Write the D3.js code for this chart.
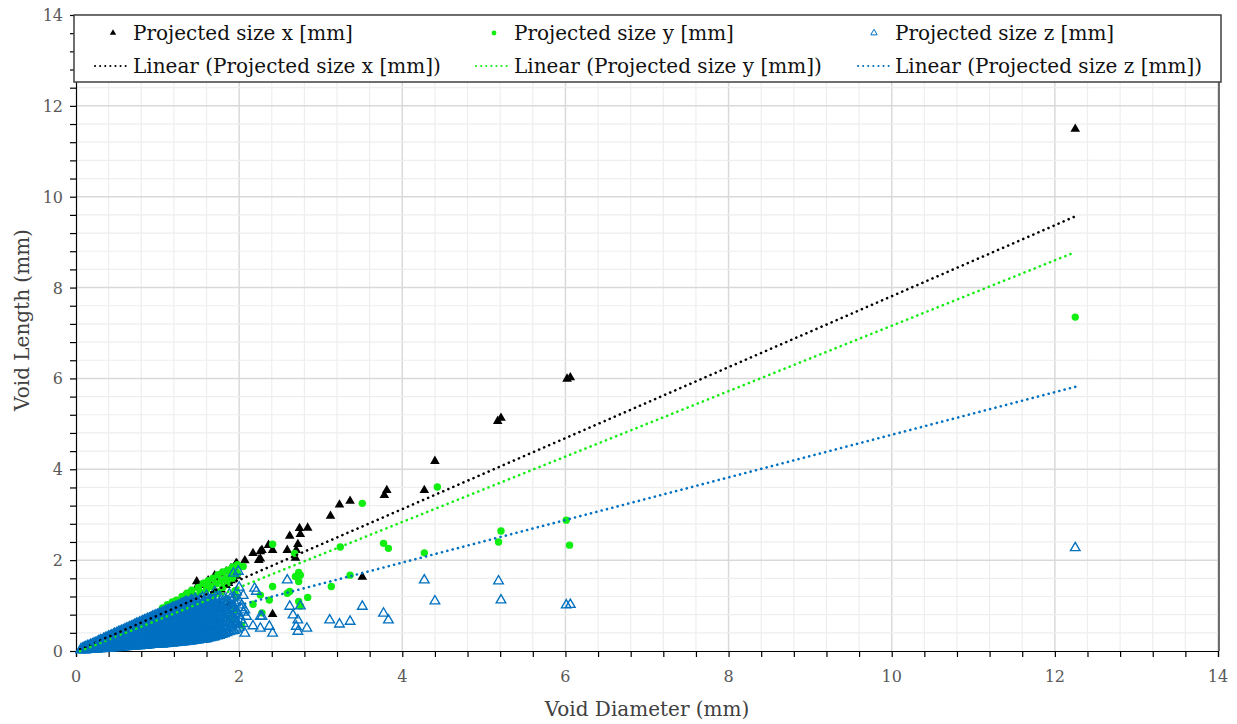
<!DOCTYPE html>
<html>
<head>
<meta charset="utf-8">
<script src="https://d3js.org/d3.v7.min.js"></script>
<style>
body { margin: 0; background: #fff; }
svg { font-family: "DejaVu Serif", serif; }
</style>
</head>
<body>
<div id="chart"></div>
<script>
// axis ticks
var diamTicks = [0, 2, 4, 6, 8, 10, 12, 14];
var lengthTicks = [0, 2, 4, 6, 8, 10, 12, 14];

// dense part of the cloud, read row by row: [diameter, [lengths]]
var xCloud = [
	[0.1, [0.07]], [0.2, [0.12, 0.16]], [0.3, [0.18, 0.24]], [0.4, [0.22, 0.31]],
	[0.5, [0.3, 0.4]], [0.6, [0.33, 0.47]], [0.7, [0.4, 0.55]], [0.8, [0.45, 0.62]],
	[0.9, [0.5, 0.7]], [1.0, [0.55, 0.8]], [1.08, [0.62, 0.9]], [1.16, [0.7, 0.98]],
	[1.24, [0.75, 1.08]], [1.32, [0.8, 1.18]], [1.4, [0.85, 1.3]], [1.48, [0.95, 1.4, 1.53]],
	[1.56, [1.0, 1.45]], [1.62, [1.1, 1.55]], [1.7, [1.3, 1.6, 1.66]], [1.78, [1.35, 1.7]],
	[1.84, [1.45, 1.75]], [1.9, [1.55, 1.82]]
];
var yCloud = [
	[0.1, [0.06]], [0.2, [0.11, 0.15]], [0.3, [0.17, 0.23]], [0.4, [0.2, 0.3]],
	[0.5, [0.28, 0.38]], [0.6, [0.32, 0.46]], [0.7, [0.38, 0.54]], [0.8, [0.42, 0.62]],
	[0.9, [0.48, 0.7]], [1.0, [0.52, 0.78]], [1.06, [0.6, 0.95]], [1.12, [0.7, 1.02]],
	[1.18, [0.75, 1.08]], [1.23, [0.8, 1.12]], [1.26, [1.05]], [1.3, [0.85, 1.2]],
	[1.34, [1.15]], [1.36, [0.9, 1.27]], [1.42, [0.95, 1.34]], [1.45, [1.22]],
	[1.5, [1.0, 1.4]], [1.52, [1.3]], [1.56, [1.05, 1.49]], [1.6, [1.35, 1.45]],
	[1.62, [1.1, 1.55]], [1.66, [1.42]], [1.68, [1.2, 1.6]], [1.72, [1.48]],
	[1.74, [1.3, 1.68]], [1.78, [1.55]], [1.8, [1.4, 1.74]], [1.84, [1.6]],
	[1.86, [1.5, 1.78]], [1.9, [1.68]], [1.92, [1.6, 1.85]], [1.96, [1.75]],
	[1.98, [1.7, 1.9]]
];
var zCloudA = [
	[0.06, [0.02, 0.04]], [0.1, [0.02, 0.05, 0.08]], [0.14, [0.03, 0.07, 0.11]],
	[0.18, [0.03, 0.08, 0.14]], [0.22, [0.04, 0.1, 0.17]], [0.26, [0.04, 0.12, 0.2]],
	[0.3, [0.05, 0.13, 0.19, 0.24]], [0.34, [0.05, 0.12, 0.2, 0.27]],
	[0.38, [0.06, 0.14, 0.23, 0.3]], [0.42, [0.06, 0.15, 0.25, 0.33]],
	[0.46, [0.07, 0.16, 0.26, 0.36]], [0.5, [0.07, 0.15, 0.24, 0.32, 0.4]],
	[0.54, [0.08, 0.17, 0.27, 0.36, 0.43]], [0.58, [0.08, 0.18, 0.28, 0.38, 0.46]],
	[0.62, [0.09, 0.19, 0.3, 0.4, 0.5]], [0.66, [0.1, 0.2, 0.3, 0.41, 0.53]],
	[0.7, [0.1, 0.19, 0.29, 0.39, 0.48, 0.56]], [0.74, [0.11, 0.21, 0.31, 0.41, 0.51, 0.6]],
	[0.78, [0.11, 0.2, 0.3, 0.4, 0.5, 0.58, 0.63]], [0.82, [0.12, 0.22, 0.33, 0.43, 0.53, 0.62, 0.66]],
	[0.86, [0.12, 0.21, 0.31, 0.41, 0.5, 0.6, 0.69]], [0.9, [0.13, 0.23, 0.33, 0.43, 0.53, 0.63, 0.72]],
	[0.94, [0.14, 0.22, 0.32, 0.42, 0.52, 0.62, 0.7, 0.76]],
	[0.98, [0.14, 0.24, 0.34, 0.44, 0.54, 0.64, 0.72, 0.79]],
	[1.02, [0.15, 0.24, 0.33, 0.43, 0.53, 0.63, 0.73, 0.82]],
	[1.06, [0.15, 0.25, 0.35, 0.45, 0.55, 0.65, 0.75, 0.85]],
	[1.1, [0.16, 0.25, 0.34, 0.44, 0.54, 0.64, 0.74, 0.83, 0.88]],
	[1.14, [0.17, 0.26, 0.36, 0.46, 0.56, 0.66, 0.76, 0.85, 0.91]],
	[1.18, [0.17, 0.27, 0.37, 0.47, 0.57, 0.67, 0.77, 0.87, 0.95]],
	[1.22, [0.18, 0.27, 0.36, 0.46, 0.56, 0.66, 0.76, 0.86, 0.97]],
	[1.26, [0.19, 0.28, 0.38, 0.48, 0.58, 0.68, 0.78, 0.88, 1.0]],
	[1.3, [0.19, 0.29, 0.39, 0.49, 0.59, 0.69, 0.79, 0.89, 0.98, 1.04]],
	[1.34, [0.2, 0.3, 0.4, 0.5, 0.6, 0.7, 0.8, 0.9, 1.0, 1.08]],
	[1.38, [0.21, 0.3, 0.41, 0.52, 0.63, 0.74, 0.85, 0.95, 1.06]],
	[1.42, [0.22, 0.32, 0.42, 0.53, 0.64, 0.75, 0.86, 0.98, 1.12]],
	[1.46, [0.23, 0.33, 0.44, 0.55, 0.66, 0.77, 0.9, 1.02, 1.15]],
	[1.5, [0.24, 0.35, 0.46, 0.58, 0.7, 0.82, 0.94, 1.08]],
	[1.55, [0.25, 0.36, 0.48, 0.6, 0.72, 0.85, 1.0, 1.18]],
	[1.6, [0.27, 0.38, 0.5, 0.63, 0.76, 0.9, 1.05, 1.22]],
	[1.65, [0.29, 0.42, 0.55, 0.68, 0.82, 0.97, 1.12]],
	[1.7, [0.31, 0.45, 0.6, 0.75, 0.9, 1.08, 1.3]],
	[1.76, [0.34, 0.5, 0.68, 0.85, 1.02, 1.2]],
	[1.82, [0.38, 0.55, 0.74, 0.92, 1.15]],
	[1.88, [0.42, 0.62, 0.82, 1.05, 1.25]],
	[1.94, [0.45, 0.7, 0.95, 1.18]],
	[2.0, [0.52, 0.78, 1.1, 1.4]],
	[2.05, [0.6, 0.85, 1.22]]
];
// the voids that sit between the rows above
var zCloudB = [
	[0.08, [0.03, 0.06]], [0.12, [0.02, 0.06, 0.09]], [0.16, [0.04, 0.09, 0.12]],
	[0.2, [0.04, 0.09, 0.15]], [0.24, [0.05, 0.11, 0.18]], [0.28, [0.05, 0.09, 0.16, 0.22]],
	[0.32, [0.06, 0.1, 0.17, 0.24]], [0.36, [0.06, 0.1, 0.18, 0.26, 0.29]],
	[0.4, [0.07, 0.11, 0.19, 0.28, 0.32]], [0.44, [0.07, 0.11, 0.2, 0.29, 0.35]],
	[0.48, [0.08, 0.12, 0.21, 0.3, 0.37]], [0.52, [0.08, 0.12, 0.2, 0.29, 0.38, 0.42]],
	[0.56, [0.09, 0.13, 0.22, 0.31, 0.4, 0.45]], [0.6, [0.09, 0.14, 0.24, 0.34, 0.44, 0.48]],
	[0.64, [0.1, 0.15, 0.25, 0.35, 0.46, 0.51]], [0.68, [0.11, 0.15, 0.25, 0.35, 0.45, 0.52, 0.54]],
	[0.72, [0.11, 0.16, 0.25, 0.35, 0.45, 0.55, 0.58]], [0.76, [0.12, 0.16, 0.26, 0.36, 0.46, 0.55, 0.61]],
	[0.8, [0.12, 0.17, 0.27, 0.37, 0.48, 0.57, 0.64]],
	[0.84, [0.13, 0.17, 0.27, 0.37, 0.47, 0.57, 0.65, 0.68]],
	[0.88, [0.13, 0.18, 0.28, 0.38, 0.48, 0.58, 0.67, 0.71]],
	[0.92, [0.14, 0.18, 0.28, 0.38, 0.48, 0.58, 0.67, 0.74]],
	[0.96, [0.15, 0.19, 0.29, 0.39, 0.49, 0.59, 0.68, 0.77]],
	[1.0, [0.15, 0.2, 0.3, 0.4, 0.5, 0.6, 0.69, 0.77, 0.8]],
	[1.04, [0.16, 0.2, 0.3, 0.4, 0.5, 0.6, 0.7, 0.79, 0.83]],
	[1.08, [0.16, 0.21, 0.31, 0.41, 0.51, 0.61, 0.71, 0.8, 0.86]],
	[1.12, [0.17, 0.21, 0.31, 0.41, 0.51, 0.61, 0.71, 0.81, 0.9]],
	[1.16, [0.18, 0.22, 0.32, 0.42, 0.52, 0.62, 0.72, 0.82, 0.92]],
	[1.2, [0.18, 0.23, 0.33, 0.43, 0.53, 0.63, 0.73, 0.83, 0.92, 0.96]],
	[1.24, [0.19, 0.23, 0.33, 0.43, 0.53, 0.63, 0.73, 0.83, 0.93, 0.99]],
	[1.28, [0.2, 0.24, 0.34, 0.44, 0.54, 0.64, 0.74, 0.84, 0.94, 1.02]],
	[1.32, [0.2, 0.25, 0.35, 0.45, 0.55, 0.65, 0.75, 0.85, 0.95, 1.05]],
	[1.36, [0.21, 0.26, 0.36, 0.46, 0.57, 0.68, 0.79, 0.9, 1.0, 1.08]],
	[1.4, [0.22, 0.27, 0.37, 0.48, 0.59, 0.7, 0.81, 0.92, 1.03, 1.1]],
	[1.44, [0.23, 0.28, 0.38, 0.49, 0.6, 0.71, 0.82, 0.94, 1.06]],
	[1.48, [0.24, 0.29, 0.4, 0.51, 0.62, 0.74, 0.86, 0.98, 1.1]],
	[1.52, [0.25, 0.3, 0.41, 0.52, 0.64, 0.76, 0.88, 1.0, 1.13]],
	[1.58, [0.26, 0.31, 0.43, 0.55, 0.67, 0.8, 0.93, 1.08]],
	[1.62, [0.28, 0.33, 0.45, 0.57, 0.7, 0.83, 0.97, 1.1]],
	[1.68, [0.3, 0.37, 0.5, 0.63, 0.77, 0.92, 1.05]],
	[1.73, [0.33, 0.4, 0.54, 0.7, 0.85, 1.0, 1.15]],
	[1.79, [0.36, 0.46, 0.62, 0.8, 0.97]],
	[1.85, [0.4, 0.5, 0.68, 0.88, 1.1]],
	[1.91, [0.44, 0.58, 0.78, 1.0]],
	[1.97, [0.48, 0.65, 0.88, 1.3]]
];
// and the ones lying half a row higher
var zCloudC = [
	[0.07, [0.03]], [0.11, [0.04, 0.07]], [0.15, [0.05, 0.09]], [0.19, [0.06, 0.11]],
	[0.23, [0.07, 0.13, 0.16]], [0.27, [0.08, 0.15, 0.19]], [0.31, [0.09, 0.16, 0.22]],
	[0.35, [0.09, 0.16, 0.23]], [0.39, [0.1, 0.19, 0.27]], [0.43, [0.11, 0.2, 0.29]],
	[0.47, [0.12, 0.21, 0.31, 0.38]], [0.51, [0.11, 0.2, 0.28, 0.36]],
	[0.55, [0.13, 0.22, 0.31, 0.4]], [0.59, [0.13, 0.23, 0.33, 0.42]],
	[0.63, [0.14, 0.25, 0.35, 0.45]], [0.67, [0.15, 0.25, 0.36, 0.47]],
	[0.71, [0.15, 0.24, 0.34, 0.44, 0.53]], [0.75, [0.16, 0.26, 0.36, 0.46, 0.56]],
	[0.79, [0.16, 0.25, 0.35, 0.45, 0.54, 0.6]], [0.83, [0.17, 0.27, 0.38, 0.48, 0.58]],
	[0.87, [0.17, 0.26, 0.36, 0.46, 0.55, 0.65]], [0.91, [0.18, 0.28, 0.38, 0.48, 0.58, 0.68]],
	[0.95, [0.18, 0.27, 0.37, 0.47, 0.57, 0.66, 0.73]],
	[0.99, [0.19, 0.29, 0.39, 0.49, 0.59, 0.68, 0.76]],
	[1.03, [0.2, 0.29, 0.38, 0.48, 0.58, 0.68, 0.78]],
	[1.07, [0.2, 0.3, 0.4, 0.5, 0.6, 0.7, 0.8]],
	[1.11, [0.21, 0.3, 0.39, 0.49, 0.59, 0.69, 0.79, 0.86]],
	[1.15, [0.22, 0.31, 0.41, 0.51, 0.61, 0.71, 0.81, 0.88]],
	[1.19, [0.22, 0.32, 0.42, 0.52, 0.62, 0.72, 0.82, 0.91]],
	[1.23, [0.23, 0.32, 0.41, 0.51, 0.61, 0.71, 0.81, 0.92]],
	[1.27, [0.24, 0.33, 0.43, 0.53, 0.63, 0.73, 0.83, 0.94]],
	[1.31, [0.24, 0.34, 0.44, 0.54, 0.64, 0.74, 0.84, 0.94, 1.01]],
	[1.35, [0.25, 0.35, 0.45, 0.55, 0.65, 0.75, 0.85, 0.95, 1.04]],
	[1.39, [0.26, 0.36, 0.47, 0.58, 0.69, 0.8, 0.9, 1.01]],
	[1.43, [0.27, 0.37, 0.48, 0.59, 0.7, 0.81, 0.92, 1.05]],
	[1.47, [0.28, 0.39, 0.5, 0.61, 0.72, 0.84, 0.96, 1.09]],
	[1.51, [0.3, 0.41, 0.52, 0.64, 0.76, 0.88, 1.01]],
	[1.56, [0.31, 0.42, 0.54, 0.66, 0.79, 0.92, 1.09]],
	[1.61, [0.33, 0.44, 0.57, 0.7, 0.83, 0.98, 1.14]],
	[1.66, [0.35, 0.48, 0.62, 0.75, 0.9, 1.05]],
	[1.71, [0.38, 0.52, 0.68, 0.83, 0.99, 1.19]],
	[1.77, [0.42, 0.59, 0.77, 0.94, 1.1]],
	[1.83, [0.46, 0.65, 0.83, 1.03]],
	[1.89, [0.52, 0.72, 0.93, 1.15]],
	[1.95, [0.57, 0.82, 1.06]],
	[2.02, [0.68, 0.95]]
];

// scattered voids: [diameter, length]
var xPoints = [
	[12.25, 11.49], [6.02, 5.99], [6.06, 6.02], [5.17, 5.06], [5.21, 5.13], [4.4, 4.18],
	[4.27, 3.54], [3.81, 3.54], [3.78, 3.43], [3.51, 1.63], [3.36, 3.3], [3.23, 3.22],
	[3.12, 2.97], [2.84, 2.71], [2.74, 2.7], [2.75, 2.57], [2.72, 2.35], [2.7, 2.22],
	[2.69, 2.05], [2.59, 2.22], [2.62, 2.53], [2.41, 2.22], [2.36, 2.33], [2.28, 2.22],
	[2.26, 2.03], [2.26, 2.19], [2.17, 2.15], [2.24, 2.0], [2.07, 1.99], [1.96, 1.92],
	[1.97, 1.93], [1.93, 1.6], [1.87, 1.49], [1.97, 1.65], [2.41, 0.81], [1.77, 1.01],
	[1.87, 1.01], [1.74, 0.61]
];
var yPoints = [
	[12.25, 7.35], [6.01, 2.88], [6.05, 2.33], [5.21, 2.64], [5.18, 2.4], [4.43, 3.61],
	[4.27, 2.16], [3.77, 2.37], [3.83, 2.26], [3.51, 3.25], [3.36, 1.67], [3.24, 2.29],
	[3.13, 1.42], [2.41, 2.35], [2.68, 2.15], [2.73, 1.73], [2.75, 1.67], [2.69, 1.64],
	[2.73, 1.53], [2.62, 1.31], [2.59, 1.27], [2.84, 1.18], [2.73, 1.09], [2.75, 0.99],
	[2.41, 1.42], [2.37, 1.12], [2.26, 1.23], [2.17, 1.03], [2.28, 0.84], [1.95, 0.9],
	[2.03, 0.57], [2.05, 1.86], [1.95, 1.33], [1.97, 1.2], [1.78, 0.95], [1.9, 0.7],
	[1.85, 1.15]
];
var zPoints = [
	[12.25, 2.27], [6.01, 1.01], [6.06, 1.02], [5.18, 1.54], [5.21, 1.12], [4.27, 1.56],
	[4.4, 1.1], [3.51, 0.98], [3.77, 0.83], [3.83, 0.68], [3.36, 0.65], [3.11, 0.68],
	[3.23, 0.59], [2.59, 1.56], [2.62, 0.98], [2.75, 0.99], [2.66, 0.79], [2.72, 0.68],
	[2.7, 0.54], [2.72, 0.43], [2.83, 0.5], [2.17, 0.55], [2.26, 0.5], [2.37, 0.54],
	[2.41, 0.39], [2.28, 0.76], [2.21, 1.31], [2.07, 0.39], [1.98, 0.61], [1.93, 1.71],
	[1.99, 1.75], [2.19, 1.38], [2.26, 0.76], [2.09, 0.76], [2.07, 0.9], [2.03, 1.01]
];

// linear trendlines as excel reports them: [slope, intercept]
var xTrend = [0.781, 0.0];
var yTrend = [0.72, -0.04];
var zTrend = [0.469, 0.07];
var trendRange = [0.05, 12.25];

var seriesNames = ["Projected size x [mm]", "Projected size y [mm]", "Projected size z [mm]"];
var colors = ["#000000", "#11ee11", "#0070c0"];

var W = 1237, H = 724;
var plotLeft = 76, plotRight = 1218, plotTop = 15, plotBottom = 651;

var svg = d3.select("#chart").append("svg")
	.attr("width", W)
	.attr("height", H);

var x = d3.scaleLinear().domain([0, 14]).range([plotLeft, plotRight]);
var y = d3.scaleLinear().domain([0, 14]).range([plotBottom, plotTop]);

// minor steps of 0.4 mm between the labelled ticks
var minor = d3.range(0, 36).map(function (i) { return +(i * 0.4).toFixed(1); });
var inner = minor.filter(function (v) { return v > 0; });

function isMajor(v) { return Math.abs(v / 2 - Math.round(v / 2)) < 1e-6; }

// grid
var grid = svg.append("g");
grid.selectAll("line.vx").data(inner)
	.enter().append("line")
	.attr("x1", function (d) { return x(d); }).attr("x2", function (d) { return x(d); })
	.attr("y1", y(0)).attr("y2", y(14))
	.attr("stroke", function (d) { return isMajor(d) ? "#d9d9d9" : "#eeeeee"; })
	.attr("stroke-width", function (d) { return isMajor(d) ? 1.5 : 1.2; });
grid.selectAll("line.hy").data(inner)
	.enter().append("line")
	.attr("y1", function (d) { return y(d); }).attr("y2", function (d) { return y(d); })
	.attr("x1", x(0)).attr("x2", x(14))
	.attr("stroke", function (d) { return isMajor(d) ? "#d9d9d9" : "#eeeeee"; })
	.attr("stroke-width", function (d) { return isMajor(d) ? 1.5 : 1.2; });

// right border of the plot area
svg.append("line")
	.attr("x1", x(14) + 1).attr("x2", x(14) + 1)
	.attr("y1", y(14)).attr("y2", y(0))
	.attr("stroke", "#404040").attr("stroke-width", 1.5);

// axes
var xAxis = d3.axisBottom(x).tickValues(minor).tickSize(6).tickFormat("");
var yAxis = d3.axisLeft(y).tickValues(minor).tickSize(6).tickFormat("");
svg.append("g").attr("transform", "translate(0," + plotBottom + ")").call(xAxis)
	.call(function (g) { g.selectAll("line,path").attr("stroke", "#000").attr("stroke-width", 1.2); });
svg.append("g").attr("transform", "translate(" + plotLeft + ",0)").call(yAxis)
	.call(function (g) { g.selectAll("line,path").attr("stroke", "#000").attr("stroke-width", 1.2); });

svg.selectAll("text.xt").data(diamTicks).enter().append("text")
	.attr("x", function (d) { return x(d); })
	.attr("y", plotBottom + 31)
	.attr("text-anchor", "middle")
	.attr("font-size", 16)
	.attr("fill", "#595959")
	.text(function (d) { return d; });
svg.selectAll("text.yt").data(lengthTicks).enter().append("text")
	.attr("x", plotLeft - 13)
	.attr("y", function (d) { return y(d) + 6; })
	.attr("text-anchor", "end")
	.attr("font-size", 16)
	.attr("fill", "#595959")
	.text(function (d) { return d; });

svg.append("text")
	.attr("x", 647).attr("y", 716)
	.attr("text-anchor", "middle")
	.attr("font-size", 20)
	.attr("fill", "#404040")
	.text("Void Diameter (mm)");
svg.append("text")
	.attr("transform", "translate(29,320) rotate(-90)")
	.attr("text-anchor", "middle")
	.attr("font-size", 20)
	.attr("fill", "#404040")
	.text("Void Length (mm)");

function flatten(clouds, points) {
	var out = [];
	clouds.forEach(function (cloud) {
		cloud.forEach(function (row) {
			row[1].forEach(function (v) { out.push([row[0], v]); });
		});
	});
	return out.concat(points);
}

var tri = d3.symbol().type(d3.symbolTriangle).size(40);
var plot = svg.append("g");

// x series: filled black triangles
plot.selectAll("path.sx").data(flatten([xCloud], xPoints)).enter().append("path")
	.attr("d", tri)
	.attr("transform", function (d) { return "translate(" + x(d[0]) + "," + y(d[1]) + ")"; })
	.attr("fill", colors[0]);

// y series: green dots
plot.selectAll("circle.sy").data(flatten([yCloud], yPoints)).enter().append("circle")
	.attr("cx", function (d) { return x(d[0]); })
	.attr("cy", function (d) { return y(d[1]); })
	.attr("r", 3.7)
	.attr("fill", colors[1]);

// z series: open blue triangles
plot.selectAll("path.sz").data(flatten([zCloudA, zCloudB, zCloudC], zPoints)).enter().append("path")
	.attr("d", tri)
	.attr("transform", function (d) { return "translate(" + x(d[0]) + "," + y(d[1]) + ")"; })
	.attr("fill", "none")
	.attr("stroke", colors[2])
	.attr("stroke-width", 1.35);

// trendlines
[xTrend, yTrend, zTrend].forEach(function (t, i) {
	plot.append("line")
		.attr("x1", x(trendRange[0])).attr("y1", y(t[0] * trendRange[0] + t[1]))
		.attr("x2", x(trendRange[1])).attr("y2", y(t[0] * trendRange[1] + t[1]))
		.attr("stroke", colors[i])
		.attr("stroke-width", 2.6)
		.attr("stroke-linecap", "round")
		.attr("stroke-dasharray", "0.1,5.4");
});

// legend
var legend = svg.append("g");
legend.append("rect")
	.attr("x", 74).attr("y", 15)
	.attr("width", 1147).attr("height", 67)
	.attr("fill", "#fff")
	.attr("stroke", "#404040").attr("stroke-width", 1.5);

var markX = [113, 494, 874];
var textX = [133, 514, 895];
var lineX = [95, 476, 858];

var smallTri = d3.symbol().type(d3.symbolTriangle).size(18);
legend.append("path").attr("d", smallTri)
	.attr("transform", "translate(" + markX[0] + ",33)").attr("fill", colors[0]);
legend.append("circle").attr("cx", markX[1]).attr("cy", 33).attr("r", 2.4).attr("fill", colors[1]);
legend.append("path").attr("d", smallTri)
	.attr("transform", "translate(" + markX[2] + ",33)")
	.attr("fill", "none").attr("stroke", colors[2]).attr("stroke-width", 1);

seriesNames.forEach(function (name, i) {
	legend.append("text")
		.attr("x", textX[i]).attr("y", 40)
		.attr("font-size", 20)
		.attr("fill", "#111")
		.text(name);
	legend.append("line")
		.attr("x1", lineX[i]).attr("x2", lineX[i] + 33)
		.attr("y1", 66).attr("y2", 66)
		.attr("stroke", colors[i])
		.attr("stroke-width", 2)
		.attr("stroke-linecap", "round")
		.attr("stroke-dasharray", "0.1,5");
	legend.append("text")
		.attr("x", textX[i]).attr("y", 73)
		.attr("font-size", 20)
		.attr("fill", "#111")
		.text("Linear (" + name + ")");
});
</script>
</body>
</html>
